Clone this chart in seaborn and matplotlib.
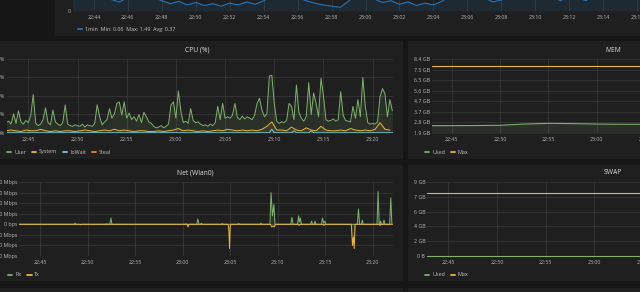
import matplotlib
matplotlib.use("Agg")
import matplotlib.dates as mdates
import matplotlib.pyplot as plt
import pandas as pd
import seaborn as sns
from matplotlib.lines import Line2D
from matplotlib.patches import Rectangle

W, H = 640, 292
DAY = "2017-05-20 "

GREEN = "#7EB26D"
YELLOW = "#EAB839"
LBLUE = "#6ED0E0"
ORANGE = "#EF843C"
BLUE = "#1F78C1"
PAGE_BG = "#161616"
PANEL_BG = "#1f1f1f"
GRID = "#363636"
TICK = "#b8b8b8"
TEXT = "#c4c4c4"
TITLE = "#dedede"

# ---------------- data ----------------
# load average (1min), 30 s steps from 22:42:30
load_start = "22:42:30"
load_1min = [0.40, 0.38, 0.35, 0.30, 0.24, 0.19, 0.15, 0.22, 0.30, 0.28,
             0.22, 0.17, 0.12, 0.16, 0.10, 0.14, 0.09, 0.12, 0.08, 0.13,
             0.10, 0.15, 0.11, 0.17, 0.24, 0.28, 0.26, 0.22, 0.17, 0.13,
             0.10, 0.08, 0.06, 0.16, 0.32, 0.28, 0.20, 0.14, 0.17, 0.11,
             0.15, 0.09, 0.13, 0.10, 0.16, 0.25, 0.32, 0.30, 0.26, 0.22,
             0.15, 0.18, 0.24, 0.35, 0.45, 0.40, 0.30, 0.22, 0.17, 0.25,
             0.21, 0.17, 0.28, 0.35, 0.38, 0.40, 0.36, 0.33, 0.30, 0.30,
             0.32, 0.34]
load_legend = "1min  Min: 0.06  Max: 1.49  Avg: 0.37"

# CPU user %, 15 s steps from 22:42:45
cpu_start = "22:42:45"
cpu_user = [14, 16, 12, 26, 13, 30, 15, 12, 17,
            14, 24, 52, 13, 10, 12, 18, 34, 14, 11, 31,
            15, 12, 10, 14, 38, 12, 10, 9, 11, 10,
            9, 12, 8, 11, 10, 9, 13, 38, 22, 11,
            15, 18, 33, 20, 26, 40, 42, 24, 42, 20,
            27, 18, 22, 16, 25, 14, 28, 22, 15, 13,
            9, 7, 8, 10, 7, 9, 12, 38, 42, 20,
            57, 30, 14, 16, 13, 33, 17, 14, 15, 12,
            10, 11, 9, 12, 10, 14, 36, 18, 40, 20,
            22, 20, 24, 40, 21, 18, 23, 19, 22, 20,
            18, 24, 40, 47, 31, 22, 26, 77, 78, 40,
            16, 13, 15, 14, 17, 40, 36, 18, 65, 28,
            20, 16, 22, 68, 25, 54, 40, 22, 74, 50,
            18, 16, 17, 19, 16, 18, 56, 24, 17, 16,
            15, 36, 20, 45, 22, 75, 36, 14, 12, 13,
            12, 15, 49, 60, 53, 22, 45, 30]
# CPU system %, 30 s steps from 22:42:45
cpu_system = [3, 4, 3, 2, 4, 3, 3, 5, 3, 2,
              3, 2, 3, 3, 2, 3, 4, 3, 2, 3,
              4, 3, 5, 3, 4, 3, 2, 3, 3, 2,
              2, 3, 2, 3, 4, 6, 3, 4, 3, 2,
              3, 2, 3, 4, 3, 5, 4, 3, 4, 3,
              4, 3, 5, 9, 15, 4, 4, 3, 8, 4,
              3, 7, 4, 3, 9, 4, 3, 3, 4, 3,
              6, 4, 3, 4, 3, 5, 14, 5, 4]
iowait_time = ["22:42:45", "23:09:30", "23:09:45", "23:10:00", "23:11:45", "23:12:00",
               "23:12:15", "23:13:30", "23:13:45", "23:14:00", "23:22:05"]
iowait_pct = [0.3, 0.3, 5.0, 0.3, 0.3, 3.0, 0.3, 0.3, 3.0, 0.3, 0.3]
steal_time = ["22:42:45", "23:22:05"]
steal_pct = [0.1, 0.1]
cpu_series = ["User", "System", "IoWait", "Steal"]
cpu_ticks = [0, 25, 50, 75, 100]

# memory (GB)
mem_time = ["22:42:55", "22:45:00", "22:47:30", "22:50:00", "22:52:30", "22:55:00", "22:57:30",
            "23:00:00", "23:02:30", "23:05:00", "23:10:00", "23:15:00", "23:20:00", "23:22:05"]
mem_used_gb = [2.52, 2.52, 2.53, 2.55, 2.66, 2.72, 2.70, 2.66, 2.64, 2.64, 2.65, 2.66, 2.65, 2.65]
mem_max_time = ["22:42:55", "23:22:05"]
mem_max_gb = [7.79, 7.79]
mem_ticks_gb = [1.87, 2.80, 3.73, 4.67, 5.60, 6.53, 7.47, 8.40]

# network wlan0 (Mbps)
rx_time = ["22:42:45",
           "22:48:34", "22:48:40", "22:48:46",
           "22:51:54", "22:52:00", "22:52:06",
           "22:52:20", "22:52:27", "22:52:34",
           "23:00:16", "23:00:22", "23:00:28",
           "23:01:29", "23:01:36", "23:01:43",
           "23:01:52", "23:01:58", "23:02:04",
           "23:04:04", "23:04:10", "23:04:16",
           "23:05:48", "23:05:54", "23:06:00",
           "23:08:09", "23:08:15", "23:08:21",
           "23:09:11", "23:09:18", "23:09:27", "23:09:36", "23:09:43",
           "23:11:23", "23:11:30", "23:11:37",
           "23:12:05", "23:12:12", "23:12:17", "23:12:23", "23:12:30",
           "23:13:28", "23:13:34", "23:13:40",
           "23:13:50", "23:13:56", "23:14:02",
           "23:14:36", "23:14:43", "23:14:50", "23:14:58", "23:15:04",
           "23:18:23", "23:18:30", "23:18:37",
           "23:18:48", "23:18:54", "23:19:00",
           "23:20:27", "23:20:34", "23:20:41",
           "23:20:45", "23:20:50", "23:20:55",
           "23:21:05", "23:21:11", "23:21:17",
           "23:21:47", "23:21:54", "23:22:01"]
rx_mbps = [0,
           0, 0.10, 0,
           0, 0.06, 0,
           0, 0.60, 0,
           0, 0.06, 0,
           0, 0.50, 0,
           0, 0.10, 0,
           0, 0.07, 0,
           0, 0.08, 0,
           0, 0.10, 0,
           0, 3.00, 0.80, 1.90, 0,
           0, 0.65, 0,
           0, 0.80, 0.20, 0.60, 0,
           0, 0.30, 0,
           0, 0.30, 0,
           0, 0.60, 0.10, 0.30, 0,
           0, 1.45, 0,
           0, 0.40, 0,
           0, 3.10, 0,
           0, 0.30, 0,
           0, 0.40, 0,
           0, 2.50, 0]
tx_time = ["22:42:45",
           "22:49:10", "22:49:16", "22:49:22",
           "23:00:28", "23:00:34", "23:00:40",
           "23:04:47", "23:04:52", "23:04:56", "23:05:00", "23:05:05",
           "23:09:14", "23:09:22", "23:09:30", "23:09:38", "23:09:46",
           "23:12:10", "23:12:16", "23:12:22",
           "23:14:45", "23:14:51", "23:14:57",
           "23:17:45", "23:17:52", "23:17:58", "23:18:03", "23:18:09",
           "23:20:40", "23:20:46", "23:20:52",
           "23:22:05"]
tx_mbps = [0,
           0, 0.05, 0,
           0, 0.25, 0,
           0, 0.60, 2.30, 0.30, 0,
           0, 0.25, 0.15, 0.25, 0,
           0, 0.10, 0,
           0, 0.10, 0,
           0, 2.00, 1.20, 2.30, 0,
           0, 0.10, 0,
           0]
net_ticks = [-3, -2, -1, 0, 1, 2, 3, 4]

# swap (GB)
swap_time = ["22:42:49", "23:22:05"]
swap_used_gb = [0.0, 0.0]
swap_max_gb = [7.91, 7.91]
swap_ticks_gb = [0, 1.85, 3.70, 5.55, 7.40, 9.25]


# ---------------- helpers ----------------
def ts(values):
    return pd.to_datetime([DAY + v for v in values])


def px_axes(fig, x0, y0, x1, y1):
    """Axes placed by pixel box (y measured from the top)."""
    ax = fig.add_axes([x0 / W, 1 - y1 / H, (x1 - x0) / W, (y1 - y0) / H])
    ax.set_facecolor("none")
    return ax


def panel(fig, x0, y0, x1, y1):
    fig.patches.append(Rectangle((x0 / W, 1 - y1 / H), (x1 - x0) / W, (y1 - y0) / H,
                                 transform=fig.transFigure, color=PANEL_BG, lw=0, zorder=-5))


def style(ax, x0, x1, step, yticks, ylabels, ylim):
    ax.set_xlim(pd.Timestamp(DAY + x0), pd.Timestamp(DAY + x1))
    ax.set_ylim(*ylim)
    ax.xaxis.set_major_locator(mdates.MinuteLocator(byminute=range(0, 60, step)))
    ax.xaxis.set_major_formatter(mdates.DateFormatter("%H:%M"))
    ax.set_yticks(yticks)
    ax.set_yticklabels(ylabels)
    ax.grid(True, color=GRID, lw=0.6)
    ax.set_axisbelow(True)
    ax.tick_params(length=0, labelsize=3.8, labelcolor=TICK)
    ax.tick_params(axis="x", pad=3.2)
    ax.tick_params(axis="y", pad=1.3)
    for sp in ax.spines.values():
        sp.set_visible(False)
    ax.set_xlabel("")
    ax.set_ylabel("")


def legend(ax, names, colors, x, y):
    handles = [Line2D([], [], color=c, lw=1.3) for c in colors]
    ax.legend(handles, names, loc="center left", bbox_to_anchor=(x / W, 1 - y / H),
              bbox_transform=ax.figure.transFigure, ncol=len(names), frameon=False,
              fontsize=3.9, labelcolor=TEXT, handlelength=0.8, handletextpad=0.5,
              columnspacing=1.1, borderpad=0, borderaxespad=0)


def title(fig, text, x, y):
    fig.text(x / W, 1 - y / H, text, ha="center", va="center", color=TITLE, fontsize=4.9)


# ---------------- figure ----------------
sns.set_theme(style="dark", rc={"axes.facecolor": PANEL_BG, "figure.facecolor": PAGE_BG})
plt.rcParams["font.family"] = ["Open Sans", "DejaVu Sans"]

fig = plt.figure(figsize=(W / 100, H / 100), dpi=100, facecolor=PAGE_BG)

panel(fig, 55, -20, 700, 36)
panel(fig, -10, 41, 403, 159)
panel(fig, 408, 41, 820, 159)
panel(fig, -10, 165, 403, 281)
panel(fig, 408, 165, 820, 281)
panel(fig, -10, 288, 403, 300)
panel(fig, 408, 288, 820, 300)

# load panel (top, mostly cut off) - axes run a little past the right edge
ax = px_axes(fig, 73, -80, 660, 11)
load_t = pd.date_range(DAY + load_start, periods=len(load_1min), freq="30s")
sns.lineplot(x=load_t, y=load_1min, color=BLUE, lw=0.8, ax=ax)
ax.fill_between(load_t, load_1min, color=BLUE, alpha=0.12, lw=0)
style(ax, "22:42:46", "23:17:21", 2, [0], ["0"], (0, 1.5))
legend(ax, [load_legend], [BLUE], 78, 29)

# CPU
ax = px_axes(fig, 7, 59, 393, 133)
user_t = pd.date_range(DAY + cpu_start, periods=len(cpu_user), freq="15s")
sys_t = pd.date_range(DAY + cpu_start, periods=len(cpu_system), freq="30s")
cpu = pd.concat([
    pd.DataFrame({"time": user_t, "pct": cpu_user, "series": "User"}),
    pd.DataFrame({"time": sys_t, "pct": cpu_system, "series": "System"}),
    pd.DataFrame({"time": ts(iowait_time), "pct": iowait_pct, "series": "IoWait"}),
    pd.DataFrame({"time": ts(steal_time), "pct": steal_pct, "series": "Steal"}),
])
cpu_colors = [GREEN, YELLOW, LBLUE, ORANGE]
sns.lineplot(data=cpu, x="time", y="pct", hue="series", hue_order=cpu_series,
             palette=dict(zip(cpu_series, cpu_colors)), estimator=None, lw=0.7,
             legend=False, ax=ax)
ax.fill_between(user_t, cpu_user, color=GREEN, alpha=0.12, lw=0)
ax.fill_between(sys_t, cpu_system, color=YELLOW, alpha=0.10, lw=0)
style(ax, "22:42:50", "23:22:04", 5, cpu_ticks, [f"{v}%" for v in cpu_ticks], (0, 100))
title(fig, "CPU (%)", 197, 50)
legend(ax, cpu_series, cpu_colors, 7, 152)

# MEM (panel continues past the right edge)
ax = px_axes(fig, 432, 59, 660, 133)
sns.lineplot(x=ts(mem_time), y=mem_used_gb, color=GREEN, lw=0.8, ax=ax)
sns.lineplot(x=ts(mem_max_time), y=mem_max_gb, color=YELLOW, lw=0.8, ax=ax)
ax.fill_between(ts(mem_time), mem_used_gb, 0, color=GREEN, alpha=0.12, lw=0)
style(ax, "22:42:58", "23:06:33", 5, mem_ticks_gb, [f"{v:.1f} GB" for v in mem_ticks_gb],
      (mem_ticks_gb[0], mem_ticks_gb[-1]))
title(fig, "MEM", 613, 50)
legend(ax, ["Used", "Max"], [GREEN, YELLOW], 425, 152)

# Net
ax = px_axes(fig, 19, 182, 393, 256)
sns.lineplot(x=ts(rx_time), y=rx_mbps, color=GREEN, lw=0.7, estimator=None, ax=ax)
ax.fill_between(ts(rx_time), rx_mbps, color=GREEN, alpha=0.15, lw=0)
tx_neg = [-v for v in tx_mbps]
sns.lineplot(x=ts(tx_time), y=tx_neg, color=YELLOW, lw=0.7, estimator=None, ax=ax)
ax.fill_between(ts(tx_time), tx_neg, color=YELLOW, alpha=0.15, lw=0)
style(ax, "22:42:47", "23:22:08", 5, net_ticks,
      ["0 bps" if v == 0 else f"{v:.1f} Mbps" for v in net_ticks], (-3, 4))
title(fig, "Net (Wlan0)", 195, 173)
legend(ax, ["Rx", "Tx"], [GREEN, YELLOW], 8, 275)

# SWAP (panel continues past the right edge)
ax = px_axes(fig, 427, 182, 660, 256)
sns.lineplot(x=ts(swap_time), y=swap_used_gb, color=GREEN, lw=0.8, clip_on=False, ax=ax)
sns.lineplot(x=ts(swap_time), y=swap_max_gb, color=YELLOW, lw=0.8, ax=ax)
style(ax, "22:42:49", "23:06:44", 5, swap_ticks_gb,
      ["0 B" if v == 0 else f"{v:.0f} GB" for v in swap_ticks_gb], (0, swap_ticks_gb[-1]))
title(fig, "SWAP", 613, 173)
legend(ax, ["Used", "Max"], [GREEN, YELLOW], 425, 275)

fig.savefig("out.png", dpi=100, facecolor=PAGE_BG)
